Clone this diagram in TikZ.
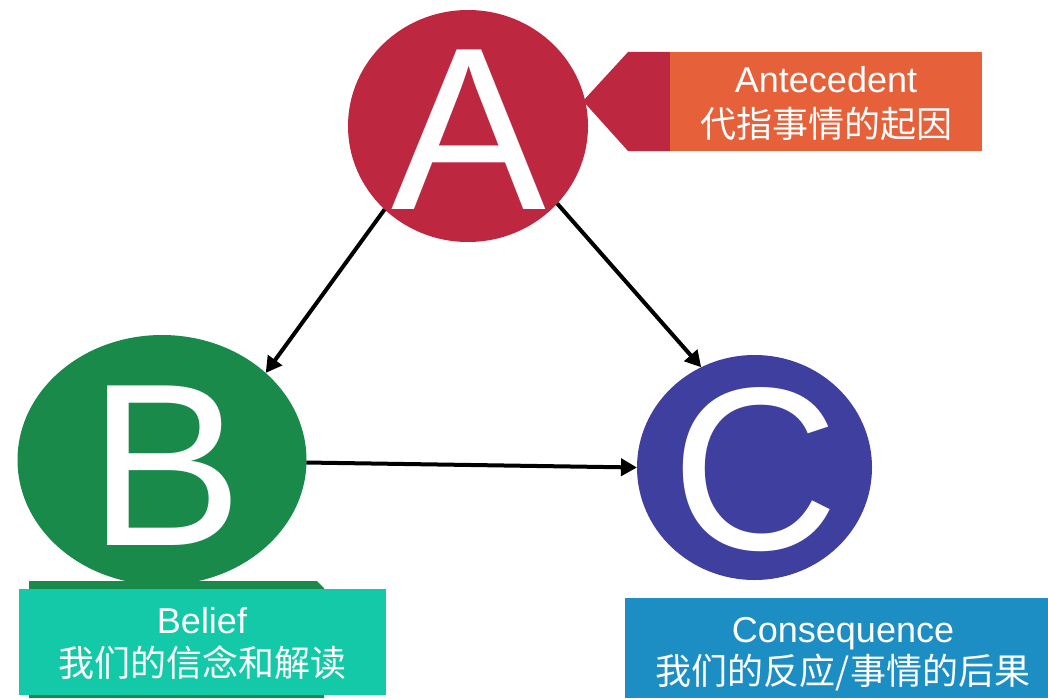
\documentclass[tikz,border=0pt]{standalone}
\usepackage{fontspec}
\setmainfont{Liberation Sans}
\newfontfamily\cjk{Noto Sans CJK SC}
\usetikzlibrary{shapes.geometric,arrows.meta}
\definecolor{cred}{HTML}{BD2840}
\definecolor{cgreen}{HTML}{1A8A4B}
\definecolor{cblue}{HTML}{3F3F9F}
\definecolor{corange}{HTML}{E6613A}
\definecolor{cteal}{HTML}{14C9A8}
\definecolor{cbox}{HTML}{1C8EC3}
\begin{document}
\begin{tikzpicture}[x=1pt,y=-1pt,
  bigcirc/.style={ellipse,inner sep=0pt,outer sep=0pt,draw=none},
  letter/.style={text=white,inner sep=0pt,font=\fontsize{232}{240}\selectfont},
  lbl/.style={text=white,inner sep=0pt,anchor=base,font=\fontsize{36}{40}\selectfont},
  lblcjk/.style={text=white,inner sep=0pt,anchor=base,font=\fontsize{36}{40}\selectfont\cjk},
  conn/.style={line width=4pt,-{Triangle[length=16pt,width=17pt]}}]
\useasboundingbox (0,0) rectangle (1048,698);
% A callout
\fill[cred] (670,52) -- (628,52) -- (583,101) -- (628,151) -- (670,151) -- cycle;
\fill[corange] (670,52) rectangle (982,151);
\node[bigcirc,fill=cred,minimum width=240pt,minimum height=232pt] (A) at (468,126) {};
% B
\fill[cgreen] (29,581) -- (317,581) -- (324,588) -- (324,698) -- (29,698) -- cycle;
\node[bigcirc,fill=cgreen,minimum width=289pt,minimum height=250pt] (B) at (162,460) {};
\fill[cteal] (19,589) rectangle (386,695);
% C
\node[bigcirc,fill=cblue,minimum width=235pt,minimum height=225pt] (C) at (754.5,467.5) {};
\fill[cbox] (625,598) rectangle (1048,698);
% letters
\node[letter] (la) at (469,130) {A};
\node[letter] (lb) at (166,466) {B};
\node[letter] (lc) at (755,470) {C};
% arrows
\draw[conn] (A.225) -- (B.40);
\draw[conn] (A.319) -- (C.118);
\draw[conn] (B.-1) -- (C.180);
% labels
\node[lbl] (ta) at (826,93) {Antecedent};
\node[lblcjk] (tac) at (826,137) {代指事情的起因};
\node[lbl] (tb) at (202,633) {Belief};
\node[lblcjk] (tbc) at (202,676) {我们的信念和解读};
\node[lbl] (tc) at (843,642) {Consequence};
\node[lblcjk] (tcc) at (843,684) {我们的反应/事情的后果};
\end{tikzpicture}
\end{document}
